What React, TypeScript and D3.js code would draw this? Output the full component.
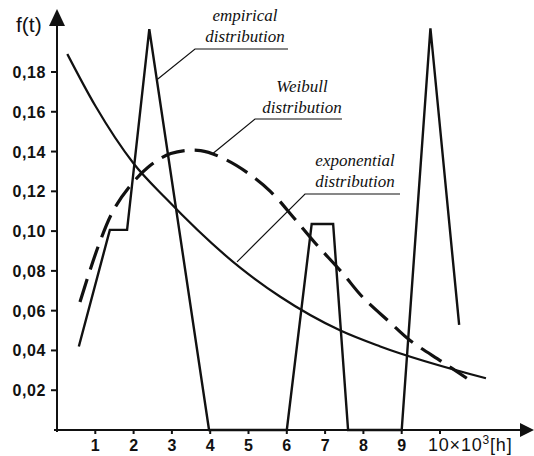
import React from "react";
import * as d3 from "d3";

// t in 10^3 h, f(t)
const empiricalT = [0.57, 1.38, 1.83, 2.41, 3.97, 6.0, 6.65, 7.21, 7.6, 9.0, 9.75, 10.5];
const empiricalF = [0.042, 0.1006, 0.1006, 0.2015, 0, 0, 0.1036, 0.1036, 0, 0, 0.202, 0.0528];

const weibullT = [0.6, 1.07, 1.46, 1.88, 2.37, 2.97, 3.75, 4.4, 5.0, 5.57, 6.17, 6.74, 7.45, 7.97, 8.7, 9.22, 10.08, 10.7];
const weibullF = [0.0644, 0.092, 0.11, 0.122, 0.132, 0.139, 0.1405, 0.136, 0.129, 0.12, 0.107, 0.094, 0.079, 0.067, 0.054, 0.045, 0.034, 0.026];

const expT = [0.27, 1.0, 2.0, 2.84, 4.79, 5.83, 7.4, 8.44, 11.2];
const expF = [0.189, 0.163, 0.134, 0.1165, 0.0815, 0.067, 0.05, 0.042, 0.026];

const yTicks = [0.02, 0.04, 0.06, 0.08, 0.1, 0.12, 0.14, 0.16, 0.18];
const yTickLabels = ["0,02", "0,04", "0,06", "0,08", "0,10", "0,12", "0,14", "0,16", "0,18"];
const xTicks = [1, 2, 3, 4, 5, 6, 7, 8, 9, 10];

// callouts: text lines, underline (px), leader target (data)
const notes = [
  { lines: ["empirical", "distribution"], cx: 245, base: 21, ux1: 195, ux2: 288, uy: 49, t: 2.6, f: 0.176 },
  { lines: ["Weibull", "distribution"], cx: 302, base: 92, ux1: 255, ux2: 342, uy: 119, t: 4.07, f: 0.139 },
  { lines: ["exponential", "distribution"], cx: 355, base: 166, ux1: 305, ux2: 400, uy: 194, t: 4.7, f: 0.0845 },
];

const W = 534;
const H = 456;
const sans = "Liberation Sans, Arial, sans-serif";

export default function App() {
  const x = d3.scaleLinear().domain([0, 10]).range([57, 440]);
  const y = d3.scaleLinear().domain([0, 0.18]).range([430, 72]);

  const mk = (ts: number[], fs: number[], curve: d3.CurveFactory) =>
    d3
      .line<number>()
      .x((t) => x(t))
      .y((_, i) => y(fs[i]))
      .curve(curve)(ts) || "";

  const empPath = mk(empiricalT, empiricalF, d3.curveLinear);
  const weiPath = mk(weibullT, weibullF, d3.curveCatmullRom);
  const expPath = mk(expT, expF, d3.curveMonotoneX);

  const x0 = x(0);
  const y0 = y(0);

  return (
    <svg
      width={W}
      height={H}
      style={{ position: "absolute", left: 0, top: 0, background: "#fff" }}
    >
      <rect width={W} height={H} fill="#fff" />
      {/* axes */}
      <line x1={x0 - 3} y1={y0} x2={524} y2={y0} stroke="#111" strokeWidth={2} />
      <polygon points={`${534},${y0} ${520},${y0 - 7} ${520},${y0 + 7}`} fill="#111" />
      <line x1={x0} y1={y0 + 2} x2={x0} y2={22} stroke="#111" strokeWidth={2} />
      <polygon points={`${x0},${9} ${x0 - 8},${26} ${x0 + 8},${26}`} fill="#111" />
      <text x={16} y={32} fontFamily={sans} fontSize={21} fill="#111">
        f(t)
      </text>

      {yTicks.map((v, i) => (
        <g key={"y" + i}>
          <line x1={x0 - 6} x2={x0} y1={y(v)} y2={y(v)} stroke="#111" strokeWidth={2} />
          <text
            x={46}
            y={y(v) + 6}
            textAnchor="end"
            fontFamily={sans}
            fontWeight="bold"
            fontSize={16}
            letterSpacing={0.6}
            fill="#111"
          >
            {yTickLabels[i]}
          </text>
        </g>
      ))}

      {xTicks.map((v) => (
        <g key={"x" + v}>
          <line x1={x(v)} x2={x(v)} y1={y0} y2={y0 + 4} stroke="#111" strokeWidth={2} />
          {v < 10 ? (
            <text
              x={x(v)}
              y={451}
              textAnchor="middle"
              fontFamily={sans}
              fontWeight="bold"
              fontSize={16}
              fill="#111"
            >
              {v}
            </text>
          ) : (
            <text
              x={x(v) - 12}
              y={451}
              fontFamily={sans}
              fontSize={18}
              letterSpacing={0.8}
              fill="#111"
            >
              10×10<tspan dy={-7} fontSize={12}>3</tspan>
              <tspan dy={7}>[h]</tspan>
            </text>
          )}
        </g>
      ))}

      {/* curves */}
      <path d={expPath} fill="none" stroke="#111" strokeWidth={2.2} />
      <path d={empPath} fill="none" stroke="#111" strokeWidth={2.4} strokeLinejoin="miter" />
      <path d={weiPath} fill="none" stroke="#111" strokeWidth={3.2} strokeDasharray="24,10" />

      {/* callouts */}
      {notes.map((n, i) => (
        <g key={"n" + i}>
          {n.lines.map((s, j) => (
            <text
              key={j}
              x={n.cx}
              y={n.base + j * 21}
              textAnchor="middle"
              fontFamily="Liberation Serif, Times New Roman, serif"
              fontStyle="italic"
              fontSize={17}
              fill="#111"
            >
              {s}
            </text>
          ))}
          <polyline
            points={`${n.ux2},${n.uy} ${n.ux1},${n.uy} ${x(n.t)},${y(n.f)}`}
            fill="none"
            stroke="#111"
            strokeWidth={1.2}
          />
        </g>
      ))}
    </svg>
  );
}
